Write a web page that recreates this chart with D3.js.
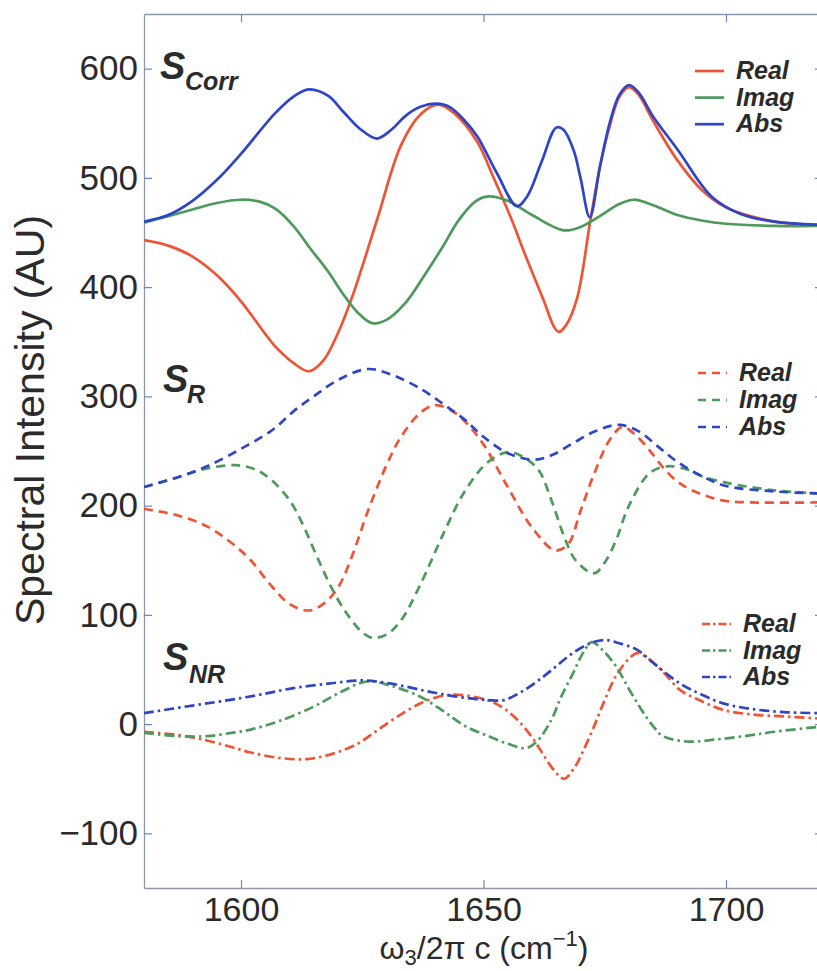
<!DOCTYPE html>
<html>
<head>
<meta charset="utf-8">
<script src="https://cdn.jsdelivr.net/npm/d3@7"></script>
<style>
  html, body { margin: 0; padding: 0; background: #fff; }
  svg { display: block; }
  text { font-family: "Liberation Sans", Arial, Helvetica, sans-serif; fill: #2b2b2b; }
</style>
</head>
<body>
<div id="chart"></div>
<script>
// ---------- DATA (wavenumber cm^-1, intensity AU) ----------
const xTicks = [1600, 1650, 1700];
const yTicks = [-100, 0, 100, 200, 300, 400, 500, 600];
const legendLabels = ["Real", "Imag", "Abs"];
const panelNames = [["S", "Corr"], ["S", "R"], ["S", "NR"]];

const corrReal = [[1580,443],[1585,438],[1590,428],[1595,411],[1600,387],[1607,346],[1611,330],[1614,323],[1617,333],[1620,358],[1623,392],[1628,461],[1633,530],[1637,558],[1640.5,567],[1644,559],[1648.7,533],[1652,501],[1655.5,465],[1659,425],[1662.4,388],[1664.5,364],[1665.5,359],[1667,365],[1669.3,390],[1672,460],[1674,510],[1676,547],[1678,574],[1680,583],[1682,576],[1685,552],[1690,516],[1695,489],[1700,473],[1705,465],[1710,460],[1720,456]];
const corrImag = [[1580,459],[1585,465],[1590,471],[1595,477],[1600,480],[1604,478],[1607,472],[1611,455],[1614,437],[1618,414],[1621,394],[1624,377],[1627,367],[1630,370],[1634,386],[1638,412],[1641.6,437],[1645,462],[1648.5,479],[1651,483],[1655,479],[1660,466],[1666.5,452],[1670,455],[1674,465],[1678,476],[1681,480],[1685,475],[1690,466],[1695,461],[1700,458],[1710,456],[1720,456]];
const corrAbs = [[1580,460],[1585,466],[1590,479],[1595,498],[1600,522],[1607,559],[1610.7,574],[1614,581],[1618,575],[1621,561],[1624.5,545],[1628,536],[1631,544],[1634,557],[1637,565],[1640.3,568],[1643,565],[1646,553],[1648.7,538],[1652.8,504],[1656.9,474],[1659,483],[1662,515],[1665,546],[1666.5,544],[1668.6,525],[1670,500],[1671.9,464],[1674,510],[1676,550],[1678,576],[1680,585],[1682,578],[1685,556],[1690,526],[1697,483],[1703,467],[1710,460],[1720,457]];

const srReal = [[1580,197],[1587,191],[1593,181],[1598,166],[1602,150],[1606,128],[1610,110],[1614,104],[1617,110],[1620,125],[1623,155],[1626,193],[1630,237],[1633,263],[1637,285],[1640,292],[1643,288],[1646,278],[1650,256],[1655,217],[1660,180],[1664.8,159],[1667.5,165],[1670,195],[1672.8,229],[1676,260],[1678.6,272],[1681,266],[1684,252],[1687,235],[1690,222],[1693,214],[1699,205],[1705,203],[1720,203]];
const srImag = [[1580,217],[1587,226],[1593,234],[1599,237],[1603,233],[1606.4,223],[1610,205],[1612.6,184],[1616,150],[1619,122],[1622,100],[1625,84],[1627,79],[1630,82],[1633,95],[1637,128],[1641.8,175],[1646,212],[1650.7,239],[1655,249],[1658,245],[1661.3,233],[1664,205],[1666.6,172],[1669,150],[1672.8,138],[1675,148],[1677.3,168],[1680,200],[1684.3,230],[1688,236],[1692,233],[1695,227],[1700,221],[1710,214],[1720,211]];
const srAbs = [[1580,217],[1587,226],[1593,236],[1600,252],[1606.4,269],[1611,287],[1615,300],[1620,315],[1626,325],[1631,320],[1637.4,306],[1642,292],[1646.3,278],[1650,263],[1655,248],[1660.4,242],[1664,246],[1668.4,257],[1673,268],[1678,274],[1682,268],[1686,254],[1690,240],[1695,227],[1700,218],[1710,213],[1720,211]];

const nrReal = [[1580,-7],[1587,-10],[1593,-15],[1598,-21],[1602,-26],[1608,-31],[1613.5,-32],[1619,-27],[1624,-18],[1628,-6],[1633,9],[1638,21],[1643.6,27],[1650.7,22],[1654,15],[1657,4],[1660,-12],[1662.2,-27],[1664.5,-42],[1666.6,-50],[1669,-38],[1670.5,-25],[1672.8,-2],[1675,22],[1677.3,44],[1680,60],[1681.7,65],[1684,60],[1687,48],[1690.6,31],[1695,21],[1699.4,13],[1705,9],[1712,7],[1720,5]];
const nrImag = [[1580,-8],[1587,-11],[1593,-11],[1598,-8],[1602,-5],[1608,3],[1615,16],[1620,28],[1625.9,39],[1631,35],[1637,25],[1642,11],[1646.3,-2],[1651,-11],[1655,-18],[1658.7,-22],[1661,-16],[1664,4],[1666,25],[1668.4,46],[1670.5,65],[1672.3,75],[1674.5,68],[1677.3,53],[1680,32],[1682.6,13],[1685,-2],[1687,-11],[1692.3,-16],[1698,-14],[1703.8,-11],[1710,-7],[1720,-2]];
const nrAbs = [[1580,10],[1590,17],[1597.5,22],[1604,27],[1610.8,33],[1618,37],[1625,40],[1631,37],[1637.4,31],[1642,27],[1646.3,24],[1651,22],[1654.2,22],[1658,30],[1662.2,43],[1665,53],[1668.4,65],[1672,74],[1675,77],[1678,74],[1681.7,68],[1685,56],[1690.6,37],[1695,27],[1699.4,19],[1705,14],[1712,11],[1720,10]];

// ---------- LAYOUT ----------
const W = 817, H = 971;
const margin = {left: 144, top: 14, right: -6, bottom: 83};
const pw = W - margin.left - margin.right;   // extends past the right edge (cropped like the reference)
const ph = H - margin.top - margin.bottom;

const colors = {Real: "#ee5436", Imag: "#4e9a5c", Abs: "#2f45c6"};
const dashes = {solid: null, dash: "9,6", dashdot: "10,4,2.5,4"};

const svg = d3.select("#chart").append("svg").attr("width", W).attr("height", H);
const g = svg.append("g").attr("transform", `translate(${margin.left},${margin.top})`);

const x = d3.scaleLinear().domain([1580, 1720]).range([0, pw]);
const y = d3.scaleLinear().domain([-150, 650]).range([ph, 0]);

g.append("clipPath").attr("id", "clip").append("rect").attr("width", pw).attr("height", ph);

// axes
const axisColor = "#8e97ab";
const axBottom = g.append("g").attr("transform", `translate(0,${ph})`)
  .call(d3.axisBottom(x).tickValues(xTicks).tickSizeInner(-8).tickSizeOuter(0).tickPadding(9).tickFormat(d3.format("d")));
const axTop = g.append("g")
  .call(d3.axisTop(x).tickValues(xTicks).tickSizeInner(-8).tickSizeOuter(0).tickFormat(""));
const axLeft = g.append("g")
  .call(d3.axisLeft(y).tickValues(yTicks).tickSizeInner(-8).tickSizeOuter(0).tickPadding(6).tickFormat(d => d < 0 ? "\u2212" + Math.abs(d) : d));
const axRight = g.append("g").attr("transform", `translate(${pw},0)`)
  .call(d3.axisRight(y).tickValues(yTicks).tickSizeInner(-8).tickSizeOuter(0).tickFormat(""));
[axBottom, axTop, axLeft, axRight].forEach(a => {
  a.select(".domain").attr("stroke", axisColor).attr("stroke-width", 1.3);
  a.selectAll(".tick line").attr("stroke", "#6f86be").attr("stroke-width", 1.2);
  a.selectAll(".tick text").attr("font-size", 35).attr("fill", "#2b2b2b")
    .attr("font-family", "'Liberation Sans', Arial, sans-serif");
});
axBottom.selectAll(".tick text").attr("font-size", 34);

// curves
const line = d3.line().x(d => x(d[0])).y(d => y(d[1])).curve(d3.curveCatmullRom.alpha(0.5));
const series = [
  {data: corrReal, key: "Real", style: "solid"},
  {data: corrImag, key: "Imag", style: "solid"},
  {data: corrAbs,  key: "Abs",  style: "solid"},
  {data: srReal,   key: "Real", style: "dash"},
  {data: srImag,   key: "Imag", style: "dash"},
  {data: srAbs,    key: "Abs",  style: "dash"},
  {data: nrReal,   key: "Real", style: "dashdot"},
  {data: nrImag,   key: "Imag", style: "dashdot"},
  {data: nrAbs,    key: "Abs",  style: "dashdot"}
];
const plot = g.append("g").attr("clip-path", "url(#clip)");
plot.selectAll("path.s").data(series).join("path")
  .attr("class", "s")
  .attr("d", d => line(d.data))
  .attr("fill", "none")
  .attr("stroke", d => colors[d.key])
  .attr("stroke-width", 2.7)
  .attr("stroke-linejoin", "round")
  .attr("stroke-dasharray", d => dashes[d.style]);

// panel labels
const panelPos = [
  {x: 160, y: 79, sx: 185, sy: 90},
  {x: 163, y: 392, sx: 187, sy: 403},
  {x: 163, y: 670, sx: 189, sy: 683}
];
panelNames.forEach((nm, i) => {
  const p = panelPos[i];
  const t = svg.append("text").attr("font-weight", "bold").attr("font-style", "italic").attr("fill", "#262626");
  t.append("tspan").attr("x", p.x).attr("y", p.y).attr("font-size", 38).text(nm[0]);
  t.append("tspan").attr("x", p.sx).attr("y", p.sy).attr("font-size", 25).text(nm[1]);
});

// legends
const legendPos = [
  {lx: 695, ly: 71, gap: 26.6, style: "solid"},
  {lx: 698, ly: 373, gap: 27, style: "dash"},
  {lx: 702, ly: 624, gap: 26.5, style: "dashdot"}
];
legendPos.forEach(lp => {
  legendLabels.forEach((lab, j) => {
    const yy = lp.ly + j * lp.gap;
    svg.append("line").attr("x1", lp.lx).attr("x2", lp.lx + 29).attr("y1", yy).attr("y2", yy)
      .attr("stroke", colors[lab]).attr("stroke-width", 2.7)
      .attr("stroke-dasharray", lp.style === "dash" ? "8,6" : (lp.style === "dashdot" ? "8,3,2.5,3" : null));
    svg.append("text").attr("x", lp.lx + 41).attr("y", yy + 8)
      .attr("font-size", 25).attr("font-weight", "bold").attr("font-style", "italic").attr("fill", "#262626")
      .text(lab);
  });
});

// axis titles
svg.append("text")
  .attr("transform", `translate(44,420) rotate(-90)`)
  .attr("text-anchor", "middle").attr("font-size", 41).attr("fill", "#2b2b2b")
  .text("Spectral Intensity (AU)");

const xt = svg.append("text").attr("x", 484).attr("y", 959).attr("text-anchor", "middle")
  .attr("font-size", 32).attr("fill", "#2b2b2b");
xt.append("tspan").text("\u03c9");
xt.append("tspan").attr("font-size", 22).attr("dy", 6).text("3");
xt.append("tspan").attr("dy", -6).text("/2\u03c0 c (cm");
xt.append("tspan").attr("font-size", 22).attr("dy", -13).text("\u22121");
xt.append("tspan").attr("dy", 13).text(")");
</script>
</body>
</html>
